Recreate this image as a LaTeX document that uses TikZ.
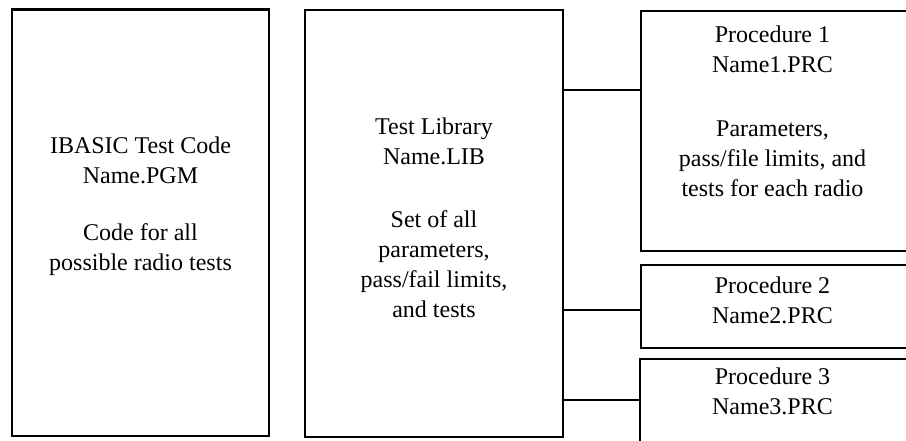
\documentclass[tikz,border=0pt]{standalone}
\usepackage{fontspec}
\setmainfont{Liberation Serif}
\tikzset{
  boxshape/.style={draw, line width=2.5pt, inner sep=0pt, outer sep=0pt, rectangle},
  boxtext/.style={align=center, anchor=north, inner sep=0pt, font=\fontsize{24}{30}\selectfont},
  link/.style={draw, line width=2.5pt}
}
\begin{document}
\begin{tikzpicture}[x=1pt, y=-1pt]
\useasboundingbox (0,0) rectangle (906,440);
\clip (0,0) rectangle (906,440);
\fill[white] (0,0) rectangle (906,440);
% boxes
\node[boxshape, minimum width=257pt, minimum height=426.5pt] (b1) at (140.5,222.75) {};
\node[boxshape, minimum width=258pt, minimum height=427pt] (b2) at (434,223.5) {};
\node[boxshape, minimum width=267pt, minimum height=240pt] (p1) at (774.5,131) {};
\node[boxshape, minimum width=267pt, minimum height=83pt] (p2) at (774.5,306.5) {};
\node[boxshape, minimum width=268pt, minimum height=91pt] (p3) at (774,404.5) {};
% texts
\node[boxtext] (t1) at (140.5,132) {\strut IBASIC Test Code\\Name.PGM\\[27pt]Code for all\\possible radio tests};
\node[boxtext] (t2) at (434,113) {\strut Test Library\\Name.LIB\\[33pt]Set of all\\parameters,\\pass/fail limits,\\and tests};
\node[boxtext] (t3) at (772.5,21) {\strut Procedure 1\\Name1.PRC\\[34pt]Parameters,\\pass/file limits, and\\tests for each radio};
\node[boxtext] (t4) at (772.5,272) {\strut Procedure 2\\Name2.PRC};
\node[boxtext] (t5) at (772.5,363) {\strut Procedure 3\\Name3.PRC};
% connectors
\coordinate (j1) at (563,90);
\coordinate (j2) at (563,310);
\coordinate (j3) at (563,400);
\draw[link] (j1) -- (j1 -| p1.west);
\draw[link] (j2) -- (j2 -| p2.west);
\draw[link] (j3) -- (j3 -| p3.west);
\end{tikzpicture}
\end{document}
